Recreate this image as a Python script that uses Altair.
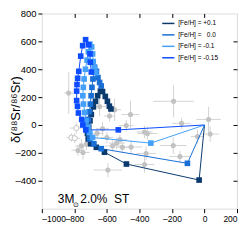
import altair as alt
import pandas as pd

# ---------------- data ----------------
feh_labels = ["[Fe/H] = +0.1", "[Fe/H] =\u00a0\u00a0\u00a00.0", "[Fe/H] = -0.1", "[Fe/H] = -0.15"]
feh_colors = ["#0b3a6f", "#1a6fd6", "#44a0fa", "#0d4dff"]

p01_x = [0, -33, -480, -615, -665, -700, -715, -720, -712, -704, -696, -683, -670, -657, -640, -627, -610, -597, -585, -575]
p01_y = [0, -395, -280, -195, -160, -135, -100, -60, -15, 30, 75, 130, 170, 210, 243, 240, 205, 170, 135, 115]

z00_x = [0, -105, -635, -680, -705, -712, -716, -714, -708, -702, -697, -692, -686, -680, -676, -664, -655, -645, -635]
z00_y = [0, -275, -170, -135, -100, -55, -10, 40, 95, 150, 210, 270, 330, 380, 415, 385, 340, 305, 280]

m01_x = [0, -330, -688, -705, -716, -728, -736, -744, -748, -745, -740, -732, -722, -714, -705, -694, -688, -684, -676, -668]
m01_y = [0, -130, -90, -55, -15, 30, 90, 150, 210, 270, 330, 400, 465, 525, 580, 560, 510, 455, 410, 375]

m015_x = [0, -530, -730, -748, -755, -775, -781, -786, -786, -784, -780, -773, -761, -749, -731, -712, -704, -702, -696]
m015_y = [0, -35, -35, 0, 40, 86, 134, 175, 243, 290, 335, 385, 494, 569, 612, 575, 510, 450, 380]

tracks = [(p01_x, p01_y), (z00_x, z00_y), (m01_x, m01_y), (m015_x, m015_y)]

# grey measurements: x, y, x error, y error, open symbol
obs_x = [-835, -190, 25, -455, -141, 35, -43, -192, -151, -359, -369, -451, -594,
         -788, -818, -798, -757, -747, -726, -778, -540, -520, -565, -505, -351,
         -553, -645, -481, -627, -584, -369, -600, -660]
obs_y = [230, 170, 40, 75, 12, -65, -83, -147, -226, -204, -283, -158, -323,
         -22, -90, -95, -151, -197, -136, -181, -130, -105, -150, -160, -61,
         109, 132, -4, -27, 64, -50, -90, -60]
obs_xe = [28, 125, 75, 55, 57, 55, 40, 80, 65, 60, 60, 70, 87,
          40, 30, 35, 40, 40, 45, 40, 50, 45, 50, 40, 60,
          40, 40, 45, 40, 35, 50, 40, 40]
obs_ye = [150, 115, 90, 100, 40, 55, 50, 60, 40, 50, 60, 50, 50,
          40, 30, 35, 50, 50, 45, 40, 40, 35, 40, 40, 45,
          80, 70, 40, 50, 40, 45, 40, 40]
obs_open = [0, 0, 0, 0, 0, 0, 0, 0, 0, 0, 0, 0, 0,
            1, 1, 1, 0, 0, 0, 0, 0, 0, 0, 0, 0,
            0, 0, 0, 0, 0, 0, 0, 0]

x_ticks = [-1000, -800, -600, -400, -200, 0, 200]
y_ticks = [-400, -200, 0, 200, 400, 600, 800]
x_inner_ticks = [-800, -600, -400, -200, 0]
y_inner_ticks = [-400, -200, 0, 200, 400, 600]

note_text = ["3M", "\u2299", "2.0%\u00a0\u00a0ST"]
note_x = [-902, -806, -764]
note_y = [-560, -585, -560]
note_size = [12, 7, 12]

# ---------------- tables ----------------
rows = []
for lab, (xs_, ys_) in zip(feh_labels, tracks):
    for i, (a, b) in enumerate(zip(xs_, ys_)):
        rows.append({"series": lab, "x": a, "y": b, "i": i, "marker": i > 0})
trk = pd.DataFrame(rows)

obs = pd.DataFrame({"x": obs_x, "y": obs_y, "xe": obs_xe, "ye": obs_ye, "open": obs_open})
obs["x1"] = obs.x - obs.xe
obs["x2"] = obs.x + obs.xe
obs["y1"] = obs.y - obs.ye
obs["y2"] = obs.y + obs.ye

notes = pd.DataFrame({"t": note_text, "x": note_x, "y": note_y, "s": note_size})

W, H = 196, 196
FONT = "Liberation Sans"
xs = alt.Scale(domain=[-1000, 200], nice=False, zero=False)
ys = alt.Scale(domain=[-600, 800], nice=False, zero=False)
LABEL_EXPR = "replace(replace(datum.label, '\u2212', '\u2013'), '-', '\u2013')"

x_axis = alt.Axis(values=x_ticks, format="d", title="δ(¹³⁵Ba/¹³⁶Ba)", domain=False, grid=False,
                  tickSize=4, tickColor="black", labelFontSize=8.5, labelColor="black",
                  labelFont=FONT, titleFont=FONT, titleFontSize=13, titleFontWeight="normal",
                  titleColor="black", labelPadding=2, labelOverlap=False, labelExpr=LABEL_EXPR,
                  titleX=W / 2, titleY=H + 23, titleBaseline="alphabetic", titleAlign="center")
y_axis = alt.Axis(values=y_ticks, format="d", title="δ(⁸⁸Sr/⁸⁶Sr)", domain=False, grid=False,
                  tickSize=4, tickColor="black", labelFontSize=9.5, labelColor="black",
                  labelFont=FONT, titleFont=FONT, titleFontSize=13, titleFontWeight="normal",
                  titleColor="black", labelPadding=2, labelOverlap=False, labelExpr=LABEL_EXPR,
                  titleX=-22, titleY=H / 2 - 2, titleAlign="center",
                  titleBaseline="alphabetic")

base_obs = alt.Chart(obs)
xbar = base_obs.mark_rule(color="#d4d4d4", strokeWidth=1).encode(
    x=alt.X("x1:Q", scale=xs, axis=x_axis), x2="x2:Q",
    y=alt.Y("y:Q", scale=ys, axis=y_axis))
ybar = base_obs.mark_rule(color="#d4d4d4", strokeWidth=1).encode(
    x=alt.X("x:Q", scale=xs, axis=x_axis), y=alt.Y("y1:Q", scale=ys, axis=y_axis), y2="y2:Q")
dots = base_obs.transform_filter("datum.open == 0").mark_circle(
    size=26, color="#c2c2c2", opacity=1).encode(
    x=alt.X("x:Q", scale=xs, axis=x_axis), y=alt.Y("y:Q", scale=ys, axis=y_axis))
odots = base_obs.transform_filter("datum.open == 1").mark_point(
    shape="circle", size=26, stroke="#c2c2c2", fill="white", filled=False, opacity=1,
    strokeWidth=1).encode(
    x=alt.X("x:Q", scale=xs, axis=x_axis), y=alt.Y("y:Q", scale=ys, axis=y_axis))

cscale = alt.Scale(domain=feh_labels, range=feh_colors)
lines = alt.Chart(trk).mark_line(strokeWidth=1).encode(
    x=alt.X("x:Q", scale=xs, axis=x_axis), y=alt.Y("y:Q", scale=ys, axis=y_axis),
    color=alt.Color("series:N", scale=cscale, sort=feh_labels,
                    legend=alt.Legend(title=None, orient="none", legendX=120, legendY=3,
                                      symbolType="stroke", symbolSize=150, symbolStrokeWidth=1.5,
                                      labelFont=FONT, labelFontSize=6.5, labelColor="black",
                                      rowPadding=0.5, labelOffset=3, padding=0)),
    order="i:Q")
squares = alt.Chart(trk).transform_filter("datum.marker").mark_square(
    size=32, opacity=1).encode(
    x=alt.X("x:Q", scale=xs, axis=x_axis), y=alt.Y("y:Q", scale=ys, axis=y_axis),
    fill=alt.Fill("series:N", scale=cscale, legend=None))

note = alt.Chart(notes).mark_text(align="left", baseline="alphabetic", font=FONT,
                                  color="black").encode(
    x=alt.X("x:Q", scale=xs, axis=x_axis), y=alt.Y("y:Q", scale=ys, axis=y_axis), text="t:N",
    size=alt.Size("s:Q", scale=None))

main = alt.layer(xbar, ybar, dots, odots, lines, squares, note)

frame_ticks = alt.Chart(obs).mark_point(opacity=0).encode(
    x=alt.X("x:Q", scale=xs, axis=alt.Axis(orient="top", values=x_inner_ticks, labels=False,
                                           domain=False, grid=False, title=None, offset=-4,
                                           tickSize=4, tickColor="black")),
    y=alt.Y("y:Q", scale=ys, axis=alt.Axis(orient="right", values=y_inner_ticks, labels=False,
                                           domain=False, grid=False, title=None, offset=-4,
                                           tickSize=4, tickColor="black")))

chart = alt.layer(main, frame_ticks).resolve_scale(
    x="independent", y="independent").resolve_axis(
    x="independent", y="independent").properties(
    width=W, height=H, autosize=alt.AutoSizeParams(type="none"),
    padding={"left": 34, "top": 5, "right": 4, "bottom": 30}
).configure_view(stroke="black", strokeWidth=1).configure_axis(
    labelOverlap=False).configure(background="white")

chart.save("out.html", embed_options={"renderer": "svg", "actions": False})
